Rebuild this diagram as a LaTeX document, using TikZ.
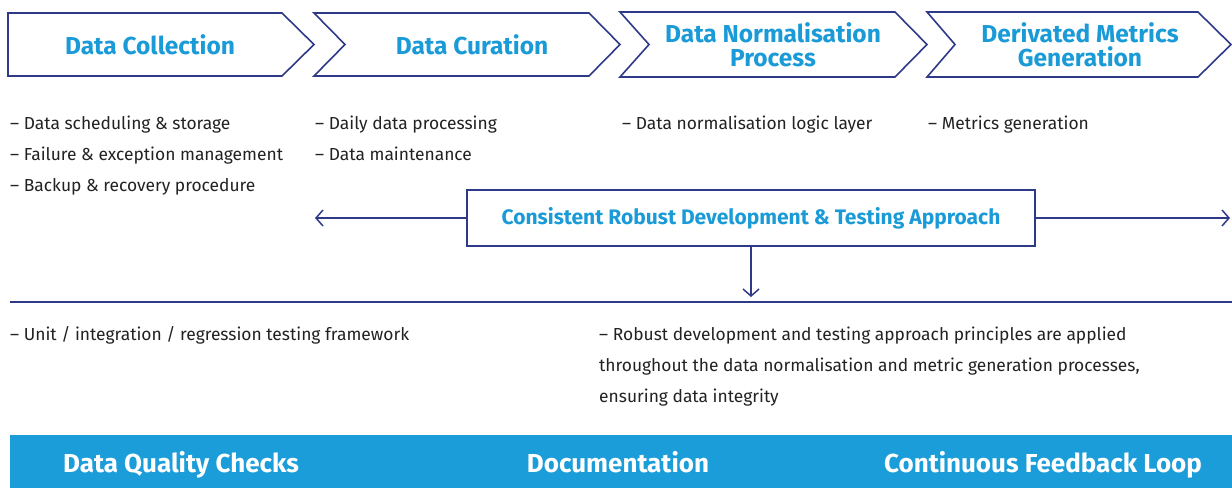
\documentclass[tikz,border=0pt]{standalone}
\usepackage{fontspec}
\setmainfont{Fira Sans}
\usetikzlibrary{arrows.meta}
\definecolor{navy}{HTML}{2E3A87}
\definecolor{titleblue}{HTML}{1A9BD7}
\definecolor{band}{HTML}{1A9DD9}
\definecolor{bodytext}{HTML}{222222}
\tikzset{
  chev/.style={draw=navy, line width=1.6pt, fill=white, line join=miter},
  ttl/.style={text=titleblue, font=\bfseries\fontsize{24.5}{24}\selectfont, align=center, inner sep=0pt},
  bodytxt/.style={text=bodytext, font=\fontsize{17.4}{31}\selectfont, anchor=base west, inner sep=0pt, align=left},
  conn/.style={draw=navy, line width=1.5pt, -{Straight Barb[length=7pt,width=16pt,line width=1.5pt]}},
  bandtxt/.style={text=white, font=\bfseries\fontsize{26}{28}\selectfont, inner sep=0pt, anchor=base},
}
\begin{document}
\begin{tikzpicture}[x=1pt,y=-1pt]
\useasboundingbox (0,0) rectangle (1232,488);
% chevrons
\draw[chev] (8,13) -- (282,13) -- (314,44.5) -- (282,76) -- (8,76) -- cycle;
\draw[chev] (314,13) -- (589,13) -- (620,44.5) -- (589,76) -- (314,76) -- (345,44.5) -- cycle;
\draw[chev] (620,12) -- (895,12) -- (927,44.5) -- (895,77) -- (620,77) -- (649,44.5) -- cycle;
\draw[chev] (927,12) -- (1198,12) -- (1231,44.5) -- (1198,77) -- (927,77) -- (955,44.5) -- cycle;
\node[ttl, anchor=base] (t1) at (150,54) {Data Collection};
\node[ttl, anchor=base] (t2) at (472,54) {Data Curation};
\node[ttl] (t3) at (773,45) {Data Normalisation\\Process};
\node[ttl] (t4) at (1080,45) {Derivated Metrics\\Generation};
% bullet lists
\node[bodytxt] (b1) at (10,129) {– Data scheduling \& storage};
\node[bodytxt] (b2) at (10,160) {– Failure \& exception management};
\node[bodytxt] (b3) at (10,191) {– Backup \& recovery procedure};
\node[bodytxt] (c1) at (315,129) {– Daily data processing};
\node[bodytxt] (c2) at (315,160) {– Data maintenance};
\node[bodytxt] (d1) at (622,129) {– Data normalisation logic layer};
\node[bodytxt] (e1) at (928,129) {– Metrics generation};
% middle box
\node[draw=navy, line width=1.5pt, minimum width=568pt, minimum height=56pt, inner sep=0pt,
      text=titleblue, font=\bfseries\fontsize{21}{24}\selectfont] (mid) at (751,218)
      {Consistent Robust Development \& Testing Approach};
\coordinate (lend) at (315,218);
\coordinate (rend) at (1230,218);
\coordinate (dend) at (751,297);
\draw[conn] (mid.west) -- (lend);
\draw[conn] (mid.east) -- (rend);
\draw[conn] (mid.south -| dend) -- (dend);
% separator line
\coordinate (sl) at (10,302);
\coordinate (sr) at (1232,302);
\draw[navy, line width=1.6pt] (sl) -- (sr);
% lower texts
\node[bodytxt] (u1) at (10,340) {– Unit / integration / regression testing framework};
\node[bodytxt] (r1) at (599,340) {– Robust development and testing approach principles are applied};
\node[bodytxt] (r2) at (599,371) {throughout the data normalisation and metric generation processes,};
\node[bodytxt] (r3) at (599,402) {ensuring data integrity};
% bottom band
\fill[band] (10,435) rectangle (1232,488);
\node[bandtxt] (q1) at (181,472) {Data Quality Checks};
\node[bandtxt] (q2) at (618,472) {Documentation};
\node[bandtxt] (q3) at (1043,472) {Continuous Feedback Loop};
\end{tikzpicture}
\end{document}
